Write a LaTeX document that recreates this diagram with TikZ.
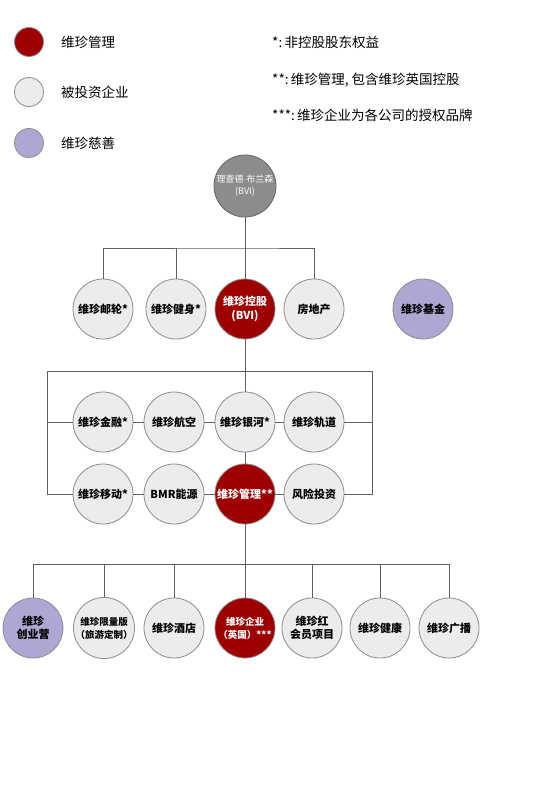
\documentclass[tikz,border=0pt]{standalone}
\usepackage{fontspec}
\newfontfamily\cjk{Noto Sans CJK SC}
\definecolor{virginred}{RGB}{158,0,0}
\definecolor{firmgray}{RGB}{236,236,236}
\definecolor{rimgray}{RGB}{140,140,140}
\definecolor{lilac}{RGB}{176,166,212}
\definecolor{founder}{RGB}{140,140,140}
\tikzset{
  firm/.style = {circle, draw = rimgray, fill = firmgray, line width = 0.8pt,
    minimum size = 60pt, inner sep = 0pt, align = center,
    font = \cjk\bfseries\fontsize{11}{13.5}\selectfont},
  core/.style = {firm, fill = virginred, text = white},
  charity/.style = {firm, fill = lilac},
  owner/.style = {firm, fill = founder, draw = gray!80!black, text = white,
    minimum size = 62pt, font = \cjk\fontsize{9}{12}\selectfont},
  swatch/.style = {circle, draw = rimgray, line width = 0.8pt, minimum size = 29pt, inner sep = 0pt},
  note/.style = {anchor = west, inner sep = 0pt, font = \cjk\fontsize{13.5}{16}\selectfont},
  link/.style = {draw = gray!75!black, line width = 0.8pt},
  tight/.style = {font = \cjk\bfseries\fontsize{9.5}{13}\selectfont}
}
\begin{document}
\begin{tikzpicture}[x = 1pt, y = -1pt]
\useasboundingbox[fill = white] (0,0) rectangle (550,785);
% legend
\node[swatch, fill = virginred] (keycore) at (29,42) {};
\node[swatch, fill = firmgray] (keyfirm) at (29,92) {};
\node[swatch, fill = lilac] (keycharity) at (29,143) {};
\node[note] (keycoretext) at (61,42) {维珍管理};
\node[note] (keyfirmtext) at (61,92) {被投资企业};
\node[note] (keycharitytext) at (61,143) {维珍慈善};
\node[note] (noteone) at (272,42) {*:\,非控股股东权益};
\node[note] (notetwo) at (272,80) {**:\,维珍管理,\ 包含维珍英国控股};
\node[note] (notethree) at (272,115) {***:\,维珍企业为各公司的授权品牌};
% top
\node[owner] (richard) at (245,186) {理查德$\cdot$布兰森\\(BVI)};
\node[firm] (cruise) at (103,309) {维珍邮轮*};
\node[firm] (fitness) at (176,309) {维珍健身*};
\node[core] (holdings) at (245,309) {维珍控股\\(BVI)};
\node[firm] (estate) at (314,309) {房地产};
\node[charity] (foundation) at (423,309) {维珍基金};
% middle
\node[firm] (finance) at (103,422) {维珍金融*};
\node[firm] (airline) at (174,422) {维珍航空};
\node[firm] (galactic) at (245,422) {维珍银河*};
\node[firm] (rail) at (314,422) {维珍轨道};
\node[firm] (mobile) at (103,494) {维珍移动*};
\node[firm] (energy) at (174,494) {BMR能源};
\node[core] (management) at (245,494) {维珍管理**};
\node[firm] (venture) at (314,494) {风险投资};
% bottom
\node[charity] (camp) at (33,628) {维珍\\创业营};
\node[firm, tight] (limited) at (104,628) {维珍限量版\\（旅游定制）};
\node[firm] (hotel) at (174,628) {维珍酒店};
\node[core, tight] (enterprise) at (245,628) {维珍企业\\（英国）***};
\node[firm] (red) at (312,628) {维珍红\\会员项目};
\node[firm] (health) at (380,628) {维珍健康};
\node[firm] (radio) at (449,628) {维珍广播};
% buses
\coordinate (busone) at (245,248);
\coordinate (busleft) at (47,371);
\coordinate (busright) at (372,371);
\coordinate (busthree) at (245,564);
\draw[link] (richard) -- (holdings);
\draw[link] (cruise) |- (busone) -| (estate);
\draw[link] (fitness) -- (fitness |- busone);
\draw[link] (holdings) -- (galactic) -- (management);
\draw[link] (busleft) -- (busright);
\draw[link] (busleft) |- (mobile);
\draw[link] (finance) -- (finance -| busleft);
\draw[link] (busright) |- (venture);
\draw[link] (rail) -- (rail -| busright);
\draw[link] (finance) -- (airline) -- (galactic) -- (rail);
\draw[link] (mobile) -- (energy) -- (management) -- (venture);
\draw[link] (management) -- (busthree);
\draw[link] (camp |- busthree) -- (radio |- busthree);
\foreach \n in {camp,limited,hotel,enterprise,red,health,radio}
  \draw[link] (\n) -- (\n |- busthree);
\end{tikzpicture}
\end{document}
